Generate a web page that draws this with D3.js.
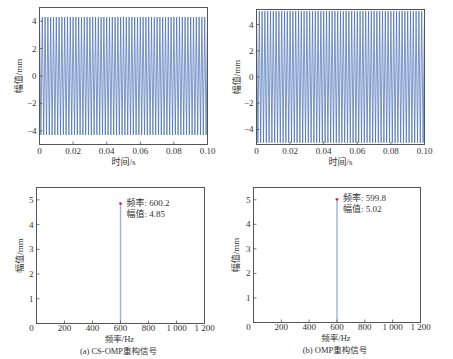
<!DOCTYPE html>
<html><head><meta charset="utf-8">
<script src="https://cdn.jsdelivr.net/npm/d3@7"></script>
<style>
body{margin:0;background:#fff;}
svg{display:block;}
text{fill:#333;}
</style></head>
<body>
<svg id="c" width="453" height="359"></svg>
<script>
// ---- data ----
// time-domain extrema (alternating peaks), 0 – 0.1 s
const csPeaks = [4.3,-4.3,4.3,-4.3,4.3,-4.3,4.3,-4.3,4.3,-4.3,4.3,-4.3,4.3,-4.3,4.3,-4.3,4.3,-4.3,4.3,-4.3,
4.3,-4.3,4.3,-4.3,4.3,-4.3,4.3,-4.3,4.3,-4.3,4.3,-4.3,4.3,-4.3,4.3,-4.3,4.3,-4.3,4.3,-4.3,
4.3,-4.3,4.3,-4.3,4.3,-4.3,4.3,-4.3,4.3,-4.3,4.3,-4.3,4.3,-4.3,4.3,-4.3,4.3,-4.3,4.3,-4.3,
4.3,-4.3,4.3,-4.3,4.3,-4.3,4.3,-4.3,4.3,-4.3,4.3,-4.3,4.3,-4.3,4.3,-4.3,4.3,-4.3,4.3,-4.3,
4.3,-4.3,4.3,-4.3,4.3,-4.3,4.3,-4.3,4.3,-4.3,4.3,-4.3,4.3,-4.3,4.3,-4.3,4.3,-4.3,4.3,-4.3,
4.3,-4.3,4.3,-4.3,4.3,-4.3,4.3,-4.3,4.3,-4.3,4.3,-4.3,4.3,-4.3,4.3,-4.3,4.3,-4.3,4.3,-4.3,4.3];
const ompPeaks = [5.02,-5.02,5.02,-5.02,5.02,-5.02,5.02,-5.02,5.02,-5.02,5.02,-5.02,5.02,-5.02,5.02,-5.02,5.02,-5.02,5.02,-5.02,
5.02,-5.02,5.02,-5.02,5.02,-5.02,5.02,-5.02,5.02,-5.02,5.02,-5.02,5.02,-5.02,5.02,-5.02,5.02,-5.02,5.02,-5.02,
5.02,-5.02,5.02,-5.02,5.02,-5.02,5.02,-5.02,5.02,-5.02,5.02,-5.02,5.02,-5.02,5.02,-5.02,5.02,-5.02,5.02,-5.02,
5.02,-5.02,5.02,-5.02,5.02,-5.02,5.02,-5.02,5.02,-5.02,5.02,-5.02,5.02,-5.02,5.02,-5.02,5.02,-5.02,5.02,-5.02,
5.02,-5.02,5.02,-5.02,5.02,-5.02,5.02,-5.02,5.02,-5.02,5.02,-5.02,5.02,-5.02,5.02,-5.02,5.02,-5.02,5.02,-5.02,
5.02,-5.02,5.02,-5.02,5.02,-5.02,5.02,-5.02,5.02,-5.02,5.02,-5.02,5.02,-5.02,5.02,-5.02,5.02,-5.02,5.02,-5.02,5.02];
const timeTicks = [0, 0.02, 0.04, 0.06, 0.08, 0.10];
const timeTickLabels = ["0","0.02","0.04","0.06","0.08","0.10"];
const ampTicks = [-4, -2, 0, 2, 4];
const freqTicks = [0, 200, 400, 600, 800, 1000, 1200];
const freqTickLabels = ["0","200","400","600","800","1 000","1 200"];
const specAmpTicks = [1, 2, 3, 4, 5];
const csFreq = [600.2], csAmp = [4.85];
const ompFreq = [599.8], ompAmp = [5.02];
const captions = ["(a) CS-OMP重构信号", "(b) OMP重构信号"];

// ---- drawing ----
const svg = d3.select("#c");
const AX = "#555";
const LATIN = "'Liberation Serif','DejaVu Serif',serif";
const CJK = "'Liberation Serif','Noto Sans CJK SC',serif";

function frame(g, x, y) {
  const [x0, x1] = x.range(), [y0, y1] = y.range();
  g.append("rect").attr("x", x0).attr("y", y1).attr("width", x1 - x0).attr("height", y0 - y1)
    .attr("fill", "none").attr("stroke", AX).attr("stroke-width", 1).attr("shape-rendering", "crispEdges");
}
function xTicks(g, x, y, ticks, labels, zeroShift, dy) {
  const y0 = y.range()[0];
  ticks.forEach((t, i) => {
    g.append("line").attr("x1", x(t)).attr("x2", x(t)).attr("y1", y0).attr("y2", y0 - 3)
      .attr("stroke", AX).attr("stroke-width", 0.8);
    g.append("text").attr("x", x(t) + (i === 0 ? zeroShift : 0)).attr("y", y0 + dy)
      .attr("text-anchor", "middle").attr("font-family", LATIN).attr("font-size", 9).text(labels[i]);
  });
}
function yTicks(g, x, y, ticks) {
  const x0 = x.range()[0];
  ticks.forEach(t => {
    g.append("line").attr("x1", x0).attr("x2", x0 + 3).attr("y1", y(t)).attr("y2", y(t))
      .attr("stroke", AX).attr("stroke-width", 0.8);
    g.append("text").attr("x", x0 - 3).attr("y", y(t) + 3).attr("text-anchor", "end")
      .attr("font-family", LATIN).attr("font-size", 9).text(t < 0 ? "\u2212" + (-t) : String(t));
  });
}
function yLabel(g, x, cy) {
  g.append("text").attr("transform", `translate(${x},${cy}) rotate(-90)`).attr("text-anchor", "middle")
    .attr("font-family", CJK).attr("font-size", 9).text("幅值/mm");
}

function timePlot(peaks, xr, yr, yd, labelX) {
  const g = svg.append("g");
  const x = d3.scaleLinear().domain([0, 0.1]).range(xr);
  const y = d3.scaleLinear().domain(yd).range(yr);
  const idx = d3.scaleLinear().domain([0, peaks.length - 1]).range([0, 0.1]);
  const line = d3.line().x((d, i) => x(idx(i))).y(d => y(d));
  g.append("path").datum(peaks).attr("d", line).attr("fill", "none")
    .attr("stroke", "#4069b3").attr("stroke-width", 0.7);
  frame(g, x, y);
  xTicks(g, x, y, timeTicks, timeTickLabels, 0, 9.5);
  yTicks(g, x, y, ampTicks);
  yLabel(g, labelX, (yr[0] + yr[1]) / 2);
  g.append("text").attr("x", (xr[0] + xr[1]) / 2).attr("y", yr[0] + 20).attr("text-anchor", "middle")
    .attr("font-family", CJK).attr("font-size", 9).text("时间/s");
}

function specPlot(freq, amp, xr, yr, labelX, caption) {
  const g = svg.append("g");
  const x = d3.scaleLinear().domain([0, 1200]).range(xr);
  const y = d3.scaleLinear().domain([0, 5.5]).range(yr);
  g.selectAll("line.stem").data(freq).enter().append("line").attr("class", "stem")
    .attr("x1", d => x(d)).attr("x2", d => x(d)).attr("y1", y(0)).attr("y2", (d, i) => y(amp[i]))
    .attr("stroke", "#9db2de").attr("stroke-width", 1.4);
  g.selectAll("circle").data(freq).enter().append("circle")
    .attr("cx", d => x(d)).attr("cy", (d, i) => y(amp[i])).attr("r", 1.4).attr("fill", "#e3262a");
  freq.forEach((f, i) => {
    g.append("text").attr("x", x(f) + 6).attr("y", y(amp[i]) + 2).attr("font-family", CJK)
      .attr("font-size", 9).text("频率: " + f.toFixed(1));
    g.append("text").attr("x", x(f) + 6).attr("y", y(amp[i]) + 13).attr("font-family", CJK)
      .attr("font-size", 9).text("幅值: " + amp[i].toFixed(2));
  });
  frame(g, x, y);
  xTicks(g, x, y, freqTicks, freqTickLabels, -5, 7.5);
  yTicks(g, x, y, specAmpTicks);
  yLabel(g, labelX, (yr[0] + yr[1]) / 2);
  g.append("text").attr("x", (xr[0] + xr[1]) / 2 - 1).attr("y", yr[0] + 18).attr("text-anchor", "middle")
    .attr("font-family", CJK).attr("font-size", 8.5).text("频率/Hz");
  g.append("text").attr("x", (xr[0] + xr[1]) / 2 - 2).attr("y", yr[0] + 30).attr("text-anchor", "middle")
    .attr("font-family", CJK).attr("font-size", 8.5).text(caption);
}

timePlot(csPeaks, [39.5, 207.5], [144.5, 7.5], [-5, 5], 22);
timePlot(ompPeaks, [256.5, 424.5], [144.5, 9.5], [-5.15, 5.15], 240);
specPlot(csFreq, csAmp, [36.5, 204.5], [323.5, 187.5], 23, captions[0]);
specPlot(ompFreq, ompAmp, [253.5, 420.5], [322.5, 187.5], 239, captions[1]);
</script>
</body></html>
